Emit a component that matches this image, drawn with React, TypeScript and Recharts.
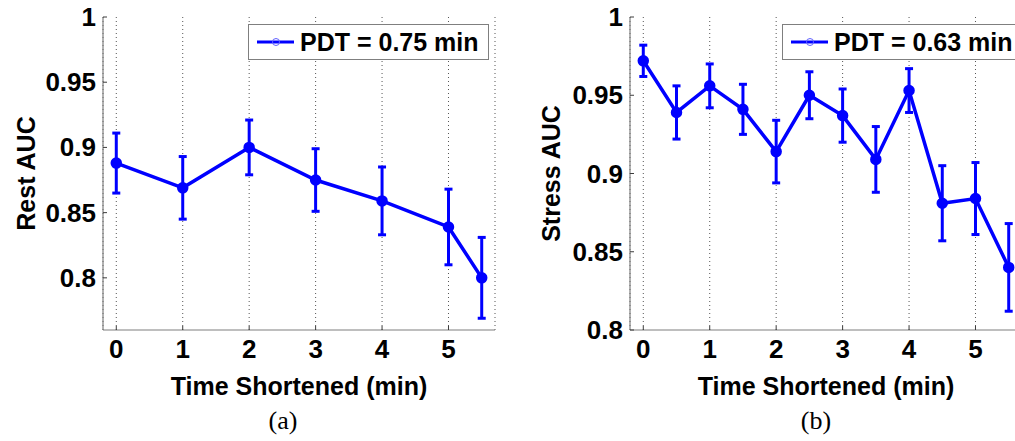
import React from 'react';
import { LineChart, Line, XAxis, YAxis, CartesianGrid, ErrorBar, Legend } from 'recharts';

const FONT = '"Liberation Sans", Arial, Helvetica, sans-serif';
const SERIF = '"Liberation Serif", "Times New Roman", serif';
const BLUE = '#0000ff';
const AXIS = '#7f7f7f';
const TICK = '#3c3c3c';

// Panel (a): Rest
const restTime = [0, 1, 2, 3, 4, 5, 5.5];
const restAUC = [0.888, 0.869, 0.9, 0.875, 0.859, 0.839, 0.8];
const restErr = [0.023, 0.024, 0.021, 0.024, 0.026, 0.029, 0.031];

// Panel (b): Stress
const stressTime = [0, 0.5, 1, 1.5, 2, 2.5, 3, 3.5, 4, 4.5, 5, 5.5];
const stressAUC = [0.972, 0.939, 0.956, 0.941, 0.914, 0.95, 0.937, 0.909, 0.953, 0.881, 0.884, 0.84];
const stressErr = [0.01, 0.017, 0.014, 0.016, 0.02, 0.015, 0.017, 0.021, 0.014, 0.024, 0.023, 0.028];

const xTicks = [0, 1, 2, 3, 4, 5];
const yTicks = [0.8, 0.85, 0.9, 0.95, 1];
const xDomain = [-0.2, 5.7];
const restDomain = [0.76, 1];
const stressDomain = [0.8, 1];

const restData = restTime.map((t, i) => ({ t, auc: restAUC[i], err: restErr[i] }));
const stressData = stressTime.map((t, i) => ({ t, auc: stressAUC[i], err: stressErr[i] }));

const textStyle = { fontFamily: FONT, fontWeight: 'bold' as const, fontSize: 25, fill: '#000' };
const tickStyle = { ...textStyle, fontSize: 26 };

function BottomTick(props: any) {
  const { x, y, payload } = props;
  return (
    <g>
      <line x1={x} x2={x} y1={y} y2={y - 4} stroke={TICK} strokeWidth={1} />
      <text x={x} y={y + 28} textAnchor="middle" {...tickStyle}>{String(payload.value)}</text>
    </g>
  );
}

function TopTick(props: any) {
  const { x, y } = props;
  return <line x1={x} x2={x} y1={y} y2={y + 4} stroke={TICK} strokeWidth={1} />;
}

function LeftTick(props: any) {
  const { x, y, payload } = props;
  return (
    <g>
      <line x1={x} x2={x + 4} y1={y} y2={y} stroke={TICK} strokeWidth={1} />
      <text x={x - 7} y={y + 9} textAnchor="end" {...tickStyle}>{String(payload.value)}</text>
    </g>
  );
}

function RightTick(props: any) {
  const { x, y } = props;
  return <line x1={x} x2={x - 4} y1={y} y2={y} stroke={TICK} strokeWidth={1} />;
}

function YTitle(props: any) {
  const { viewBox, text, bx } = props;
  const cy = viewBox && viewBox.height ? viewBox.y + viewBox.height / 2 : 173.5;
  return (
    <text transform={`translate(${bx},${cy}) rotate(-90)`} textAnchor="middle" {...textStyle}>
      {text}
    </text>
  );
}

function XTitle(props: any) {
  const { viewBox, caption, capDx } = props;
  const cx = viewBox && viewBox.width ? viewBox.x + viewBox.width / 2 : 299;
  const by = viewBox && viewBox.y ? viewBox.y : 330;
  return (
    <g>
      <text x={cx} y={by + 65} textAnchor="middle" {...textStyle}>Time Shortened (min)</text>
      <text x={cx + capDx} y={by + 98.5} textAnchor="middle" fontFamily={SERIF} fontSize={26} fill="#000">
        {caption}
      </text>
    </g>
  );
}

function LegendBox({ label }: { label: string }) {
  return (
    <div
      style={{
        boxSizing: 'border-box',
        width: 241,
        height: 36,
        border: `1px solid ${AXIS}`,
        background: '#fff',
        display: 'flex',
        alignItems: 'center',
        fontFamily: FONT,
        fontWeight: 'bold',
        fontSize: 25,
        color: '#000',
        whiteSpace: 'nowrap',
        lineHeight: '34px',
      }}
    >
      <svg width={51} height={34} style={{ flex: 'none', display: 'block' }}>
        <line x1={8} x2={45} y1={17} y2={17} stroke={BLUE} strokeWidth={3} />
        <circle cx={27} cy={17} r={3.5} fill="none" stroke="#6060ff" strokeWidth={1} />
      </svg>
      <span>{label}</span>
    </div>
  );
}

function Panel(props: {
  left: number;
  data: { t: number; auc: number; err: number }[];
  yDomain: number[];
  yLabel: string;
  yLabelX: number;
  legend: string;
  legendLeft: number;
  caption: string;
  capDx: number;
}) {
  const { left, data, yDomain, yLabel, yLabelX, legend, legendLeft, caption, capDx } = props;
  return (
    <div style={{ position: 'absolute', left, top: 0, width: 507, height: 441 }}>
      <LineChart width={507} height={441} data={data} margin={{ top: 17, right: 12, bottom: 0, left: 0 }}>
        <CartesianGrid horizontal={false} vertical stroke="#555" strokeDasharray="1 3" strokeWidth={1} />
        <XAxis
          xAxisId={0}
          type="number"
          dataKey="t"
          domain={xDomain}
          ticks={xTicks}
          allowDataOverflow
          height={111}
          tickSize={0}
          tickMargin={0}
          tickLine={false}
          axisLine={{ stroke: AXIS, strokeWidth: 1.2 }}
          tick={<BottomTick />}
          interval={0}
          label={<XTitle caption={caption} capDx={capDx} />}
        />
        <XAxis
          xAxisId="top"
          orientation="top"
          type="number"
          dataKey="t"
          domain={xDomain}
          ticks={xTicks}
          allowDataOverflow
          height={0}
          tickSize={0}
          tickMargin={0}
          tickLine={false}
          axisLine={{ stroke: AXIS, strokeWidth: 1.2 }}
          tick={<TopTick />}
          interval={0}
        />
        <YAxis
          yAxisId={0}
          type="number"
          domain={yDomain}
          ticks={yTicks}
          allowDataOverflow
          width={103}
          tickSize={0}
          tickMargin={0}
          tickLine={false}
          axisLine={{ stroke: AXIS, strokeWidth: 1.2 }}
          tick={<LeftTick />}
          interval={0}
          label={<YTitle text={yLabel} bx={yLabelX} />}
        />
        <YAxis
          yAxisId="right"
          orientation="right"
          type="number"
          domain={yDomain}
          ticks={yTicks}
          allowDataOverflow
          width={0}
          tickSize={0}
          tickMargin={0}
          tickLine={false}
          axisLine={{ stroke: AXIS, strokeWidth: 1.2 }}
          tick={<RightTick />}
          interval={0}
        />
        <Legend
          layout="vertical"
          align="center"
          verticalAlign="middle"
          content={() => <LegendBox label={legend} />}
          wrapperStyle={{ position: 'absolute', left: legendLeft, top: 24, width: 241, height: 36 }}
        />
        <Line
          xAxisId={0}
          yAxisId={0}
          type="linear"
          dataKey="auc"
          stroke={BLUE}
          strokeWidth={3.5}
          dot={{ r: 4.5, stroke: BLUE, strokeWidth: 2.5, fill: BLUE }}
          activeDot={false}
          isAnimationActive={false}
        >
          <ErrorBar dataKey="err" direction="y" width={4} stroke={BLUE} strokeWidth={3} isAnimationActive={false} />
        </Line>
      </LineChart>
    </div>
  );
}

export default function App() {
  return (
    <div
      style={{
        position: 'absolute',
        left: 0,
        top: 0,
        width: 1015,
        height: 441,
        overflow: 'hidden',
        background: '#fff',
      }}
    >
      <Panel
        left={0}
        data={restData}
        yDomain={restDomain}
        yLabel="Rest AUC"
        yLabelX={35}
        legend="PDT = 0.75 min"
        legendLeft={248}
        caption="(a)"
        capDx={-16}
      />
      <Panel
        left={527}
        data={stressData}
        yDomain={stressDomain}
        yLabel="Stress AUC"
        yLabelX={33}
        legend="PDT = 0.63 min"
        legendLeft={255}
        caption="(b)"
        capDx={-10}
      />
    </div>
  );
}
